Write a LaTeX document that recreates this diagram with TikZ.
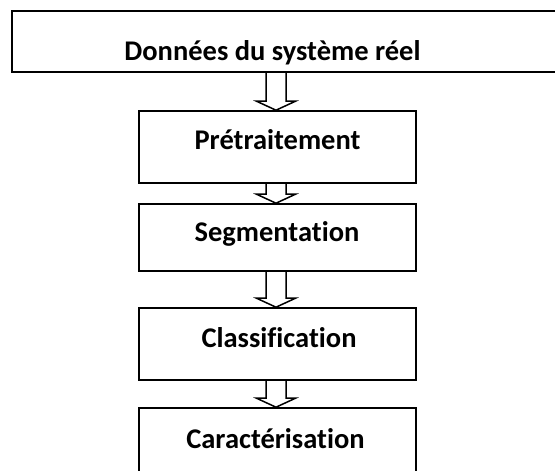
\documentclass[tikz,border=0pt]{standalone}
\usepackage{fontspec}
\setmainfont{Carlito}[Ligatures={NoCommon}]
\usetikzlibrary{calc,backgrounds}
\begin{document}
\begin{tikzpicture}[x=1pt,y=1pt,
  box/.style={draw=black, line width=1.6pt, inner sep=0pt},
  lbl/.style={font=\fontsize{28.5}{34}\selectfont\bfseries, anchor=base, inner sep=0pt},
  blockarrow/.style={draw=black, line width=1.5pt, fill=white, line join=miter,
    to path={let \p1=(\tikztostart), \p2=(\tikztotarget) in
      (\x1-10pt,\y1) -- (\x1-10pt,\y2+9pt) -- (\x1-19.5pt,\y2+9pt) -- (\x1,\y2)
      -- (\x1+19.5pt,\y2+9pt) -- (\x1+10pt,\y2+9pt) -- (\x1+10pt,\y1)}}]
\useasboundingbox (0,0) rectangle (555,471);
\clip (0,0) rectangle (555,471);
% boxes
\node[box, minimum width=608pt, minimum height=61pt] (d) at (316,429.5) {};
\node[box, minimum width=277pt, minimum height=72pt] (p) at (277.5,324) {};
\node[box, minimum width=277pt, minimum height=67pt] (s) at (277.5,233.5) {};
\node[box, minimum width=277pt, minimum height=72pt] (c) at (277.5,127) {};
\node[box, minimum width=277pt, minimum height=112pt] (k) at (277.5,7) {};
% labels
\node[lbl] (td) at (272.5,410) {Données du système réel};
\node[lbl] (tp) at (277.5,321) {Prétraitement};
\node[lbl] (ts) at (277,229) {Segmentation};
\node[lbl] (tc) at (279,123) {Classification};
\node[lbl] (tk) at (275.5,22) {Caractérisation};
% arrows
\begin{scope}[on background layer]
\fill[white] (0,0) rectangle (555,471);
\draw[blockarrow] ($(p.north |- d.south)+(-1.5,0)$) to ($(p.north)+(-1.5,0)$);
\draw[blockarrow] ($(p.south)+(-1.5,0)$) to ($(s.north)+(-1.5,0)$);
\draw[blockarrow] ($(s.south)+(-1.5,0)$) to ($(c.north)+(-1.5,0)$);
\draw[blockarrow] ($(c.south)+(-1.5,0)$) to ($(k.north)+(-1.5,0)$);
\end{scope}
\end{tikzpicture}
\end{document}
